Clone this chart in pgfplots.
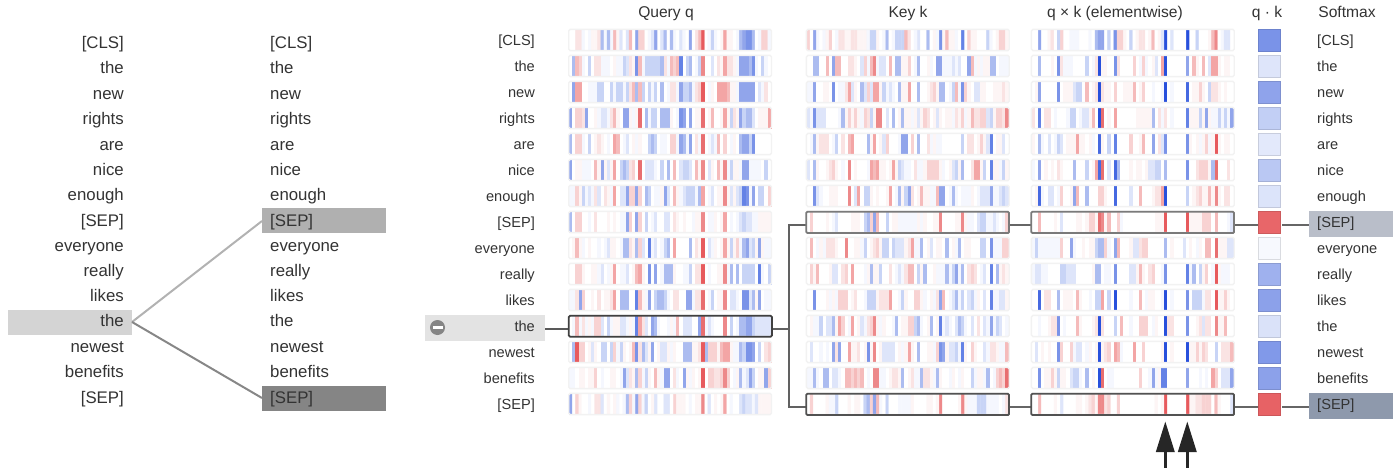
\documentclass[border=0pt]{standalone}
\usepackage{pgfplots}
\usepackage{fontspec}
\setmainfont{Liberation Sans}
\pgfplotsset{compat=1.18}
\definecolor{txt}{HTML}{333333}
\pgfdeclareplotmark{rsq}{%
  \pgfsetcornersarced{\pgfpoint{2.5pt}{2.5pt}}%
  \pgfpathmoveto{\pgfpoint{-11pt}{0pt}}%
  \pgfpathlineto{\pgfpoint{-11pt}{11pt}}%
  \pgfpathlineto{\pgfpoint{11pt}{11pt}}%
  \pgfpathlineto{\pgfpoint{11pt}{-11pt}}%
  \pgfpathlineto{\pgfpoint{-11pt}{-11pt}}%
  \pgfpathclose
  \pgfusepathqfillstroke}
\newcommand\LL[2]{\node[anchor=base east,inner sep=0pt,text=txt,font=\fontsize{16.8}{18}\selectfont] at (axis cs:124,{#1+6}) {#2};}
\newcommand\ML[2]{\node[anchor=base west,inner sep=0pt,text=txt,font=\fontsize{16.8}{18}\selectfont] at (axis cs:270,{#1+6}) {#2};}
\newcommand\QL[2]{\node[anchor=base east,inner sep=0pt,text=txt,font=\fontsize{14.6}{18}\selectfont] at (axis cs:535,{#1+5}) {#2};}
\newcommand\SL[2]{\node[anchor=base west,inner sep=0pt,text=txt,font=\fontsize{14.6}{18}\selectfont] at (axis cs:1317,{#1+5}) {#2};}
\newcommand\TT[2]{\node[anchor=base,inner sep=0pt,text=txt,font=\fontsize{15.6}{18}\selectfont] at (axis cs:#1,17.5) {#2};}
\newcommand\overlay[1]{%
  \pgfplotsinvokeforeach{0,...,15}{%
    \fill[white] (axis cs:{#1-3},{24.5+26*##1}) rectangle (axis cs:{#1+205},{29.5+26*##1});}%
  \pgfplotsinvokeforeach{0,...,14}{%
    \draw[color=black!5,line width=1.4pt,rounded corners=1.5pt] (axis cs:{#1-0.6},{29.4+26*##1}) rectangle (axis cs:{#1+202.2},{50.6+26*##1});}%
}
\begin{document}
\begin{tikzpicture}
\begin{axis}[
  scale only axis,width=1398pt,height=471pt,
  xmin=0,xmax=1398,ymin=0,ymax=471,y dir=reverse,hide axis,clip=false,
  colormap={cw}{rgb255(0pt)=(40,80,220) rgb255(2pt)=(100,130,230) rgb255(4pt)=(145,165,235) rgb255(6pt)=(200,212,246) rgb255(8pt)=(245,247,254) rgb255(9pt)=(255,255,255) rgb255(10pt)=(253,245,245) rgb255(12pt)=(248,210,210) rgb255(14pt)=(243,165,165) rgb255(16pt)=(232,110,112) rgb255(18pt)=(230,70,75)},
  point meta min=-9,point meta max=9,
]
\path (axis cs:0,0) rectangle (axis cs:1398,471);
% left attention view
\fill[color=black!17] (axis cs:8,309.5) rectangle (axis cs:132,335);
\fill[color=black!31] (axis cs:262,208) rectangle (axis cs:386,233);
\fill[color=black!48] (axis cs:262,386) rectangle (axis cs:386,411);
\addplot[color=black!30,line width=2pt] coordinates {(132,322) (262,221)};
\addplot[color=black!47,line width=2pt] coordinates {(132,322) (262,398)};
\LL{42}{[CLS]}\LL{67}{the}\LL{93}{new}\LL{118}{rights}\LL{144}{are}\LL{169}{nice}\LL{194}{enough}\LL{220}{[SEP]}\LL{245}{everyone}\LL{270}{really}\LL{295}{likes}\LL{320}{the}\LL{346}{newest}\LL{371}{benefits}\LL{397}{[SEP]}
\ML{42}{[CLS]}\ML{67}{the}\ML{93}{new}\ML{118}{rights}\ML{144}{are}\ML{169}{nice}\ML{194}{enough}\ML{220}{[SEP]}\ML{245}{everyone}\ML{270}{really}\ML{295}{likes}\ML{320}{the}\ML{346}{newest}\ML{371}{benefits}\ML{397}{[SEP]}
% Query q
\addplot[matrix plot*,mesh/cols=64,point meta=explicit] table[row sep=crcr,header=false,meta index=0,x expr={569.3+1.575+3.15*mod(\coordindex,64)},y expr={40+26*floor((\coordindex+0.5)/64)}] {
0\\0\\2\\2\\-1\\0\\-1\\1\\1\\2\\-4\\-1\\-4\\-1\\4\\1\\ -2\\0\\-2\\4\\0\\-5\\3\\3\\0\\-1\\-2\\-5\\0\\-2\\-4\\0\\ -4\\-1\\0\\-2\\-1\\0\\-5\\0\\2\\4\\8\\0\\-1\\-3\\-1\\0\\ 1\\5\\1\\1\\0\\-1\\-4\\-5\\-6\\-6\\-4\\0\\-1\\3\\3\\-1\\
0\\-4\\4\\3\\-1\\0\\-3\\0\\2\\2\\-1\\-1\\-1\\0\\1\\-1\\ -1\\-3\\-2\\2\\1\\-6\\4\\-1\\-3\\-3\\-3\\-3\\-3\\-4\\2\\-1\\ 4\\3\\4\\-7\\0\\-3\\-4\\0\\-1\\-3\\6\\0\\0\\-2\\0\\2\\ 1\\5\\2\\2\\1\\-1\\-5\\-5\\-5\\-4\\-6\\-1\\0\\-3\\-1\\0\\
0\\-5\\5\\5\\0\\0\\-1\\-1\\-1\\-3\\-3\\0\\0\\-3\\-1\\-3\\ -3\\-1\\-3\\2\\4\\-4\\4\\-3\\0\\-3\\-1\\-3\\0\\-4\\0\\-1\\ 2\\2\\-1\\-5\\-3\\-3\\-4\\-1\\2\\3\\8\\0\\-1\\1\\0\\5\\ 5\\5\\4\\1\\1\\-1\\-5\\-5\\-5\\-5\\-5\\0\\-2\\-1\\2\\0\\
-5\\0\\3\\3\\2\\-5\\0\\0\\1\\-1\\-2\\-2\\-1\\2\\4\\1\\ 0\\-5\\-5\\1\\-1\\1\\7\\0\\-4\\-1\\-3\\-3\\0\\-4\\-4\\-4\\ 1\\0\\-1\\-6\\-5\\0\\-5\\0\\1\\1\\7\\0\\1\\4\\0\\0\\ 1\\5\\1\\-3\\2\\1\\-5\\-3\\-4\\-4\\-2\\0\\1\\1\\1\\5\\
-4\\0\\3\\3\\-1\\0\\-3\\0\\1\\2\\1\\0\\-1\\0\\5\\4\\ 0\\-1\\-2\\0\\1\\-1\\1\\0\\0\\-3\\-4\\-3\\0\\-1\\-1\\0\\ 3\\3\\-1\\-5\\-4\\-1\\-5\\0\\2\\-1\\7\\0\\-1\\-2\\-1\\4\\ 0\\3\\0\\-1\\1\\0\\-4\\-5\\-5\\-3\\-6\\0\\0\\0\\0\\0\\
-5\\0\\1\\1\\-1\\-1\\-1\\0\\4\\1\\-5\\1\\-2\\1\\5\\0\\ -3\\-4\\-3\\2\\3\\0\\7\\0\\-2\\-2\\-2\\-1\\0\\-3\\0\\-4\\ 0\\4\\0\\-2\\-3\\-3\\-2\\0\\4\\1\\6\\0\\-2\\1\\0\\4\\ 1\\6\\-1\\-3\\1\\1\\-1\\-5\\-5\\-1\\-1\\-1\\-1\\0\\-3\\0\\
-1\\-1\\3\\1\\-3\\-1\\-2\\-1\\2\\-2\\0\\2\\1\\-1\\5\\0\\ -2\\-2\\-5\\3\\3\\-5\\3\\0\\-4\\-3\\0\\-1\\-1\\1\\-5\\-2\\ 0\\4\\1\\-1\\-2\\-3\\-3\\-3\\-1\\-4\\5\\0\\-1\\-2\\0\\1\\ 1\\6\\1\\-2\\1\\-2\\-3\\-7\\-6\\-1\\-5\\0\\-3\\-3\\0\\3\\
-4\\0\\3\\3\\0\\0\\-1\\0\\2\\0\\0\\0\\1\\0\\1\\0\\ -1\\-1\\-5\\3\\0\\-5\\3\\0\\-3\\0\\-1\\-2\\0\\0\\-2\\-2\\ 0\\2\\1\\0\\1\\0\\0\\-1\\1\\1\\6\\0\\-1\\-1\\1\\0\\ 1\\5\\0\\-1\\0\\-1\\-2\\-3\\-2\\-2\\-1\\-1\\1\\1\\1\\1\\
0\\1\\4\\1\\-1\\0\\1\\0\\0\\-1\\0\\-1\\-2\\1\\1\\0\\ -1\\-4\\-4\\2\\1\\-4\\3\\-2\\0\\-7\\-1\\-2\\0\\-1\\-3\\-4\\ 0\\5\\0\\0\\0\\0\\-4\\0\\2\\1\\8\\0\\-2\\-1\\1\\0\\ 1\\5\\1\\-3\\1\\3\\-1\\-4\\-5\\-2\\-3\\1\\-5\\1\\-1\\-1\\
0\\0\\3\\3\\1\\0\\0\\1\\1\\-1\\-2\\0\\-1\\1\\5\\0\\ -1\\-1\\-2\\0\\1\\4\\5\\1\\0\\-6\\0\\-5\\0\\-1\\-4\\-4\\ -4\\1\\0\\0\\-1\\-1\\-3\\0\\2\\2\\8\\0\\-1\\0\\0\\1\\ 1\\6\\-1\\-4\\0\\-4\\0\\-3\\-3\\-3\\-3\\0\\-7\\-1\\0\\-3\\
-1\\-1\\2\\-5\\3\\0\\0\\1\\0\\2\\0\\1\\1\\2\\5\\0\\ -4\\-4\\-4\\0\\0\\-7\\4\\1\\-1\\-5\\0\\-3\\-4\\-4\\-3\\-1\\ 0\\2\\2\\0\\0\\-5\\-5\\-1\\2\\2\\7\\0\\-1\\-3\\0\\1\\ 1\\6\\0\\-2\\-2\\-1\\0\\-6\\-6\\-2\\-4\\1\\-5\\0\\-1\\-1\\
0\\-1\\4\\-1\\2\\-1\\1\\-1\\3\\3\\-2\\0\\-3\\-1\\1\\1\\ -2\\-2\\-1\\1\\-1\\-7\\5\\2\\-2\\0\\-5\\-4\\-1\\0\\0\\-1\\ 1\\-1\\4\\0\\-2\\-2\\-2\\0\\0\\-5\\7\\-1\\-2\\-1\\0\\0\\ 0\\6\\0\\-3\\0\\-1\\-4\\-4\\-5\\-5\\-3\\-2\\-2\\-2\\-2\\-2\\
0\\-4\\8\\3\\3\\0\\1\\-2\\1\\0\\-3\\-3\\0\\-3\\3\\-1\\ -3\\1\\0\\1\\4\\-6\\2\\-4\\-2\\1\\-5\\0\\1\\-2\\-2\\1\\ -1\\1\\0\\0\\-4\\-4\\-4\\1\\1\\2\\8\\-4\\3\\3\\3\\1\\ 4\\5\\5\\1\\-1\\-1\\-4\\-3\\-6\\-6\\-5\\0\\-3\\0\\2\\3\\
-1\\-1\\0\\1\\1\\0\\1\\1\\3\\0\\-1\\0\\0\\1\\1\\0\\ -1\\-5\\-2\\2\\1\\-4\\3\\-1\\-3\\1\\0\\4\\1\\-1\\-5\\-5\\ 0\\2\\-1\\0\\-5\\1\\-1\\1\\0\\1\\8\\0\\3\\3\\2\\2\\ 3\\6\\3\\0\\-1\\1\\-4\\-1\\-2\\-5\\-3\\0\\1\\1\\-5\\3\\
-5\\0\\3\\1\\0\\0\\-1\\0\\2\\2\\-2\\0\\1\\0\\1\\-1\\ 0\\-1\\-4\\3\\-1\\-5\\3\\-1\\-3\\0\\1\\-2\\0\\0\\-2\\-2\\ 0\\3\\1\\1\\1\\0\\-1\\0\\1\\1\\6\\0\\-2\\0\\1\\0\\ 1\\5\\0\\-1\\0\\0\\-2\\-3\\-2\\-2\\-1\\-2\\1\\1\\1\\1\\
};
% Key k
\addplot[matrix plot*,mesh/cols=64,point meta=explicit] table[row sep=crcr,header=false,meta index=0,x expr={807+1.575+3.15*mod(\coordindex,64)},y expr={40+26*floor((\coordindex+0.5)/64)}] {
3\\0\\-5\\-1\\0\\-1\\1\\3\\0\\-1\\2\\2\\1\\1\\2\\2\\ 1\\1\\1\\-1\\-3\\-3\\1\\0\\-1\\-4\\0\\-1\\-3\\-3\\-3\\4\\ 2\\0\\-1\\-2\\0\\0\\-4\\0\\1\\-1\\-6\\1\\4\\1\\1\\-1\\ 0\\-7\\0\\3\\1\\1\\0\\0\\0\\-3\\-1\\0\\1\\3\\3\\1\\
0\\0\\-4\\-4\\0\\0\\4\\0\\-5\\4\\4\\0\\0\\2\\2\\1\\ 0\\-2\\3\\-1\\4\\6\\-1\\-2\\-2\\0\\4\\0\\-4\\-4\\1\\1\\ 3\\0\\-1\\-4\\0\\0\\1\\-1\\0\\-5\\-5\\-1\\-1\\-1\\-2\\-1\\ -2\\0\\0\\-5\\4\\-1\\1\\-1\\1\\1\\-4\\-4\\0\\-1\\-1\\-1\\
-1\\-1\\-5\\0\\0\\1\\1\\0\\-6\\0\\-1\\-1\\2\\5\\-2\\1\\ 0\\-4\\-2\\3\\-2\\5\\5\\1\\-3\\-1\\-2\\-1\\0\\-4\\1\\1\\ 5\\0\\0\\-4\\0\\0\\1\\2\\3\\1\\-4\\-4\\0\\-1\\-3\\4\\ -1\\-6\\3\\1\\0\\-2\\-2\\1\\1\\0\\0\\1\\1\\1\\2\\1\\
-2\\-1\\-6\\-2\\-2\\-2\\0\\0\\0\\0\\-1\\-4\\1\\3\\1\\3\\ 1\\-1\\3\\2\\-3\\1\\6\\6\\0\\-2\\0\\-4\\0\\1\\-4\\1\\ 1\\-1\\1\\-2\\1\\3\\2\\0\\1\\-2\\1\\0\\1\\1\\-1\\2\\ 1\\3\\-1\\1\\4\\2\\2\\3\\3\\-2\\-3\\1\\3\\3\\2\\6\\
0\\-1\\-4\\1\\2\\2\\2\\0\\-1\\-3\\0\\2\\0\\4\\5\\0\\ 0\\0\\0\\-4\\1\\5\\0\\1\\-2\\3\\0\\0\\0\\-1\\-5\\-5\\ 0\\3\\0\\-4\\0\\0\\2\\-1\\1\\-1\\-1\\0\\0\\0\\0\\0\\ 0\\-3\\0\\2\\2\\0\\1\\3\\1\\-2\\-7\\0\\1\\1\\-2\\0\\
-2\\0\\-4\\1\\0\\0\\1\\2\\3\\1\\0\\-1\\0\\6\\0\\1\\ 0\\0\\0\\-1\\5\\4\\5\\1\\1\\0\\1\\5\\1\\-3\\-2\\-1\\ -1\\0\\2\\-1\\-1\\1\\3\\3\\3\\3\\1\\-1\\0\\1\\-2\\-3\\ 1\\-4\\0\\0\\2\\5\\5\\1\\-3\\0\\-7\\1\\1\\-1\\-3\\1\\
0\\0\\-6\\-2\\-1\\0\\0\\1\\1\\1\\0\\0\\0\\6\\0\\-2\\ 5\\0\\-3\\-3\\1\\0\\1\\0\\0\\1\\5\\0\\-1\\-4\\1\\-3\\ -5\\2\\0\\1\\4\\1\\1\\-1\\-1\\4\\-5\\-5\\0\\-1\\-4\\-1\\ 0\\-1\\-1\\-1\\1\\0\\-1\\-2\\-2\\-2\\-5\\-1\\-1\\-2\\-3\\-2\\
0\\3\\0\\0\\0\\0\\1\\0\\-1\\-2\\0\\0\\0\\0\\1\\1\\ 1\\0\\-3\\-4\\3\\-5\\4\\0\\0\\-3\\0\\1\\1\\-1\\-1\\-1\\ -1\\-1\\-1\\1\\-1\\1\\0\\0\\1\\1\\6\\0\\0\\0\\0\\1\\ 1\\6\\1\\-1\\-1\\0\\-2\\-3\\-3\\-1\\-1\\-2\\-1\\0\\-1\\3\\
0\\4\\0\\-1\\1\\-1\\2\\2\\2\\1\\0\\0\\6\\0\\0\\1\\ 1\\-1\\-3\\0\\1\\2\\3\\1\\-3\\-3\\0\\-3\\-2\\-2\\-2\\1\\ 2\\5\\-1\\-1\\-4\\0\\1\\-2\\0\\1\\1\\0\\-4\\0\\1\\-1\\ -4\\0\\1\\1\\0\\0\\0\\-3\\-3\\0\\-6\\-1\\-1\\-1\\3\\3\\
0\\3\\1\\4\\0\\0\\0\\1\\-2\\-2\\0\\2\\3\\0\\5\\0\\ 0\\0\\-1\\1\\-4\\1\\1\\-3\\0\\0\\2\\0\\-1\\-2\\-1\\2\\ 4\\4\\0\\-3\\1\\-4\\0\\0\\1\\-1\\-1\\-1\\-4\\-1\\-3\\-5\\ -1\\-4\\0\\2\\3\\2\\0\\-1\\-2\\0\\-7\\0\\-4\\1\\2\\1\\
0\\0\\-6\\0\\0\\0\\1\\-1\\1\\-1\\3\\3\\3\\0\\1\\2\\ 0\\0\\-1\\-3\\-3\\-3\\1\\2\\2\\2\\5\\0\\0\\-1\\-3\\1\\ 0\\0\\3\\3\\1\\-1\\0\\1\\-1\\2\\-5\\4\\0\\-1\\-2\\-4\\ -1\\-3\\0\\-2\\-3\\-1\\1\\0\\-2\\0\\-7\\-1\\-1\\-2\\-2\\1\\
0\\1\\-1\\-1\\-3\\0\\-2\\-2\\-4\\1\\5\\3\\0\\-1\\5\\0\\ 1\\-2\\-1\\2\\3\\6\\1\\-1\\1\\0\\0\\-1\\-4\\0\\1\\1\\ 3\\3\\-3\\-4\\-1\\0\\1\\-4\\0\\1\\-7\\-1\\-2\\-1\\0\\-2\\ -4\\-3\\-1\\0\\-2\\0\\2\\0\\-2\\-1\\-5\\-1\\-3\\-2\\0\\-1\\
0\\-2\\0\\0\\-1\\0\\-1\\0\\-5\\2\\-5\\0\\0\\5\\1\\1\\ 2\\0\\1\\-6\\1\\6\\0\\1\\-2\\-2\\-2\\-2\\0\\1\\-1\\1\\ 5\\1\\0\\-4\\0\\0\\1\\1\\-1\\3\\-6\\-5\\1\\-2\\-2\\-3\\ -1\\-7\\1\\0\\3\\1\\0\\0\\-2\\-1\\2\\2\\1\\-1\\-1\\4\\
-1\\-1\\-4\\-1\\0\\-4\\-4\\0\\-2\\-2\\-1\\0\\4\\4\\3\\4\\ 3\\4\\0\\-1\\0\\6\\6\\-1\\-1\\0\\1\\2\\2\\1\\-4\\0\\ 1\\2\\-1\\-1\\-4\\2\\2\\1\\-1\\-4\\1\\0\\0\\-1\\1\\0\\ -1\\1\\0\\0\\-3\\-1\\1\\1\\-1\\-4\\0\\-1\\3\\4\\3\\7\\
0\\3\\0\\0\\0\\0\\1\\-1\\-1\\-3\\0\\0\\0\\1\\0\\1\\ 1\\0\\-3\\-4\\3\\-5\\4\\-1\\0\\-3\\0\\0\\0\\-1\\-1\\-1\\ -1\\1\\0\\0\\0\\0\\1\\1\\0\\1\\6\\0\\0\\0\\0\\0\\ 1\\6\\1\\-1\\-1\\-1\\-3\\-3\\-3\\-1\\-1\\-1\\-1\\0\\-1\\2\\
};
% q x k
\addplot[matrix plot*,mesh/cols=64,point meta=explicit] table[row sep=crcr,header=false,meta index=0,x expr={1032+1.575+3.15*mod(\coordindex,64)},y expr={40+26*floor((\coordindex+0.5)/64)}] {
0\\0\\-5\\0\\0\\1\\2\\0\\-3\\3\\0\\0\\-1\\-1\\-1\\0\\ 0\\0\\-1\\0\\-4\\-5\\-5\\0\\-3\\0\\-6\\3\\3\\1\\0\\-3\\ 0\\1\\2\\2\\0\\1\\4\\0\\1\\-2\\-9\\0\\-2\\0\\0\\0\\ 0\\-9\\0\\0\\-3\\0\\0\\0\\1\\4\\6\\0\\-1\\-2\\-2\\0\\
0\\0\\-4\\0\\0\\0\\1\\0\\-6\\2\\-1\\-1\\-1\\0\\0\\0\\ 0\\-3\\0\\-1\\2\\-9\\1\\1\\0\\0\\-6\\2\\0\\0\\0\\0\\ 3\\0\\-1\\3\\-1\\0\\1\\-2\\0\\5\\-9\\0\\0\\0\\0\\0\\ 0\\-5\\0\\4\\1\\0\\4\\0\\-2\\5\\5\\1\\0\\1\\1\\0\\
0\\1\\-5\\0\\0\\0\\0\\0\\-6\\0\\1\\1\\1\\-2\\-3\\-3\\ 0\\4\\0\\1\\2\\-9\\2\\1\\1\\0\\3\\0\\0\\1\\1\\1\\ 4\\0\\1\\3\\0\\0\\-1\\0\\0\\-1\\-9\\0\\-1\\0\\0\\0\\ 0\\-8\\0\\1\\1\\3\\1\\0\\-3\\2\\2\\1\\0\\1\\0\\0\\
2\\0\\-7\\0\\2\\2\\0\\-1\\0\\0\\0\\-1\\-3\\-3\\0\\-1\\ -2\\-2\\1\\4\\0\\-9\\7\\0\\1\\0\\5\\0\\0\\0\\0\\0\\ 0\\1\\1\\1\\1\\1\\-4\\0\\2\\-1\\2\\0\\-1\\0\\0\\0\\ 0\\-7\\1\\1\\1\\-3\\1\\-5\\1\\-1\\-1\\-3\\-1\\-3\\-1\\-5\\
1\\0\\-4\\-1\\0\\-2\\0\\-1\\-3\\-2\\0\\1\\1\\1\\5\\1\\ 1\\0\\1\\-1\\0\\-8\\1\\0\\-3\\0\\-7\\0\\0\\0\\0\\3\\ 0\\0\\1\\4\\0\\0\\-5\\0\\2\\-2\\-6\\0\\0\\0\\0\\0\\ 0\\-6\\1\\0\\1\\-1\\1\\3\\-1\\1\\8\\1\\0\\1\\1\\0\\
-1\\0\\-5\\0\\1\\0\\1\\0\\2\\1\\0\\0\\0\\-4\\0\\0\\ 0\\-3\\0\\1\\5\\-8\\7\\0\\-2\\0\\-8\\-4\\0\\0\\0\\1\\ 0\\1\\1\\0\\1\\-2\\-2\\-3\\-3\\0\\-4\\0\\0\\0\\0\\0\\ 0\\-6\\0\\0\\2\\3\\3\\3\\1\\-4\\7\\0\\0\\0\\2\\0\\
0\\1\\-8\\-1\\0\\-2\\-2\\0\\-1\\3\\0\\0\\1\\-5\\4\\0\\ 0\\-4\\0\\0\\0\\3\\3\\1\\0\\0\\-8\\0\\0\\0\\0\\-2\\ 0\\0\\4\\0\\0\\0\\1\\2\\2\\5\\-9\\0\\0\\0\\0\\0\\ 0\\-3\\0\\1\\2\\3\\1\\1\\4\\1\\6\\1\\0\\2\\2\\0\\
0\\0\\4\\0\\0\\0\\0\\1\\0\\-2\\0\\0\\0\\0\\1\\1\\ 0\\1\\3\\3\\1\\7\\6\\1\\4\\0\\0\\3\\-1\\0\\0\\0\\ 0\\0\\0\\0\\0\\0\\0\\1\\1\\1\\8\\0\\0\\0\\0\\0\\ 0\\8\\1\\1\\1\\1\\3\\3\\3\\0\\4\\0\\0\\0\\-1\\-2\\
-1\\-3\\-1\\-1\\-1\\-1\\-1\\-1\\-1\\3\\0\\0\\-5\\-1\\0\\0\\ 1\\0\\1\\1\\-3\\-4\\-4\\3\\-1\\0\\-5\\4\\0\\0\\0\\1\\ -2\\-2\\2\\3\\3\\0\\0\\0\\0\\0\\-4\\0\\1\\0\\0\\0\\ -2\\0\\1\\0\\-1\\1\\0\\4\\4\\0\\7\\1\\1\\1\\-2\\-2\\
-1\\-2\\-2\\-1\\-1\\0\\0\\0\\0\\-3\\-3\\-2\\-2\\-2\\0\\0\\ 0\\0\\0\\1\\-4\\-4\\0\\-1\\-1\\0\\-6\\0\\0\\0\\0\\-2\\ -2\\1\\4\\1\\0\\2\\3\\0\\0\\-1\\-6\\0\\0\\0\\0\\0\\ 0\\-7\\-1\\-4\\0\\-3\\1\\3\\0\\-1\\8\\1\\-1\\-1\\-1\\0\\
0\\0\\-8\\0\\2\\2\\0\\0\\-4\\0\\1\\1\\1\\0\\4\\1\\ 0\\0\\-1\\0\\-3\\-3\\5\\0\\-3\\0\\-9\\0\\0\\0\\0\\-1\\ 0\\0\\4\\0\\-1\\1\\1\\0\\0\\-1\\-9\\0\\-1\\0\\0\\0\\ 0\\-6\\0\\-3\\-3\\-3\\-1\\2\\2\\0\\8\\1\\1\\3\\1\\0\\
0\\0\\-1\\0\\0\\1\\2\\2\\-6\\0\\-1\\0\\0\\0\\4\\1\\ 0\\0\\0\\1\\2\\-9\\2\\0\\0\\0\\-3\\0\\4\\0\\0\\-1\\ 0\\0\\3\\3\\3\\0\\-1\\1\\0\\0\\-9\\2\\2\\0\\0\\0\\ 0\\-6\\0\\0\\1\\2\\-2\\2\\2\\0\\6\\1\\1\\4\\0\\0\\
0\\-2\\0\\1\\0\\1\\0\\0\\-6\\3\\0\\0\\3\\-1\\-2\\-2\\ 0\\-1\\1\\0\\1\\-9\\1\\2\\3\\0\\5\\4\\-1\\0\\0\\0\\ 5\\0\\0\\3\\0\\0\\0\\0\\0\\1\\-9\\0\\1\\0\\0\\0\\ 0\\-9\\1\\1\\3\\1\\3\\2\\0\\0\\-3\\0\\2\\2\\2\\4\\
0\\0\\-6\\0\\1\\1\\3\\1\\-3\\1\\1\\0\\-2\\-3\\-3\\-1\\ 0\\-4\\0\\1\\0\\-9\\7\\0\\-1\\-1\\0\\0\\0\\0\\0\\0\\ 0\\0\\3\\0\\0\\-1\\-5\\-1\\1\\-7\\-7\\0\\0\\0\\0\\0\\ 0\\-5\\0\\0\\0\\-1\\0\\-1\\0\\5\\3\\0\\-2\\-2\\-2\\-5\\
0\\0\\4\\0\\0\\0\\0\\1\\0\\-2\\0\\0\\0\\0\\1\\1\\ 0\\1\\2\\3\\1\\6\\6\\2\\3\\0\\0\\3\\0\\0\\0\\0\\ 0\\0\\0\\0\\0\\0\\0\\1\\0\\1\\8\\0\\0\\0\\0\\0\\ 0\\8\\1\\1\\2\\2\\3\\3\\3\\0\\4\\1\\0\\0\\0\\-2\\
};
\overlay{569.3}
\overlay{807}
\overlay{1032}
% highlighted row and connectors
\fill[color=black!11] (axis cs:425,315) rectangle (axis cs:545,340.7);
\fill[color=black!48] (axis cs:437.5,327.5) circle[radius=7.5pt];
\fill[white] (axis cs:432.5,326.2) rectangle (axis cs:442.5,328.8);
\addplot[color=black!65,line width=1.7pt] coordinates {(545,328.7) (568,328.7)};
\addplot[color=black!62,line width=1.7pt] coordinates {(772,328.7) (789,328.7)};
\addplot[color=black!62,line width=1.7pt] coordinates {(806,225) (789,225) (789,407) (806,407)};
\addplot[color=black!60,line width=1.7pt] coordinates {(1009,225) (1031,225)};
\addplot[color=black!60,line width=1.7pt] coordinates {(1009,407) (1031,407)};
\addplot[color=black!60,line width=1.7pt] coordinates {(1234,225) (1258,225)};
\addplot[color=black!60,line width=1.7pt] coordinates {(1234,407) (1258,407)};
\addplot[color=black!60,line width=1.7pt] coordinates {(1282,225) (1309,225)};
\addplot[color=black!60,line width=1.7pt] coordinates {(1282,407) (1309,407)};
\draw[color=black!75,line width=1.8pt,rounded corners=1.5pt] (axis cs:568.7,315.7) rectangle (axis cs:772,336.8);
\draw[color=black!52,line width=1.8pt,rounded corners=1pt] (axis cs:806.3,211.8) rectangle (axis cs:1009,233);
\draw[color=black!52,line width=1.8pt,rounded corners=1pt] (axis cs:1031.3,211.8) rectangle (axis cs:1234,233);
\draw[color=black!68,line width=1.8pt,rounded corners=1pt] (axis cs:806.3,393.8) rectangle (axis cs:1009,415);
\draw[color=black!68,line width=1.8pt,rounded corners=1pt] (axis cs:1031.3,393.8) rectangle (axis cs:1234,415);
% softmax highlight
\fill[fill={rgb,255:red,185;green,190;blue,201}] (axis cs:1309,211) rectangle (axis cs:1393,237);
\fill[fill={rgb,255:red,142;green,153;blue,172}] (axis cs:1309,393) rectangle (axis cs:1393,419);
% q dot k
\addplot[scatter,only marks,mark=rsq,point meta=explicit,line width=1pt,
  scatter/use mapped color={draw=mapped color!88!black,fill=mapped color}] coordinates {
(1269.7,40.5)[-6] (1269.7,66.5)[-2] (1269.7,92.5)[-5.1] (1269.7,118.5)[-3.2] (1269.7,144.5)[-1.8]
(1269.7,170.5)[-3.5] (1269.7,196.5)[-2.1] (1269.7,222.5)[7.4] (1269.7,248.5)[-0.8] (1269.7,274.5)[-4.5]
(1269.7,300.5)[-5.2] (1269.7,326.5)[-2.2] (1269.7,352.5)[-5.7] (1269.7,378.5)[-5.2] (1269.7,404.5)[7.6]};
% texts
\QL{40}{[CLS]}\QL{66}{the}\QL{92}{new}\QL{118}{rights}\QL{144}{are}\QL{170}{nice}\QL{196}{enough}\QL{222}{[SEP]}\QL{248}{everyone}\QL{274}{really}\QL{300}{likes}\QL{326}{the}\QL{352}{newest}\QL{378}{benefits}\QL{404}{[SEP]}
\SL{40}{[CLS]}\SL{66}{the}\SL{92}{new}\SL{118}{rights}\SL{144}{are}\SL{170}{nice}\SL{196}{enough}\SL{222}{[SEP]}\SL{248}{everyone}\SL{274}{really}\SL{300}{likes}\SL{326}{the}\SL{352}{newest}\SL{378}{benefits}\SL{404}{[SEP]}
\TT{666}{Query q}\TT{908}{Key k}\TT{1115}{q × k (elementwise)}\TT{1267}{q · k}\TT{1347}{Softmax}
% arrows
\fill[color=black!85] (axis cs:1165.3,421.7) -- (axis cs:1174.8,452) -- (axis cs:1155.8,452) -- cycle;
\fill[color=black!85] (axis cs:1187.3,421.7) -- (axis cs:1196.8,452) -- (axis cs:1177.8,452) -- cycle;
\fill[color=black!85] (axis cs:1163.8,450) rectangle (axis cs:1166.8,468);
\fill[color=black!85] (axis cs:1185.8,450) rectangle (axis cs:1188.8,468);
\end{axis}
\end{tikzpicture}
\end{document}
